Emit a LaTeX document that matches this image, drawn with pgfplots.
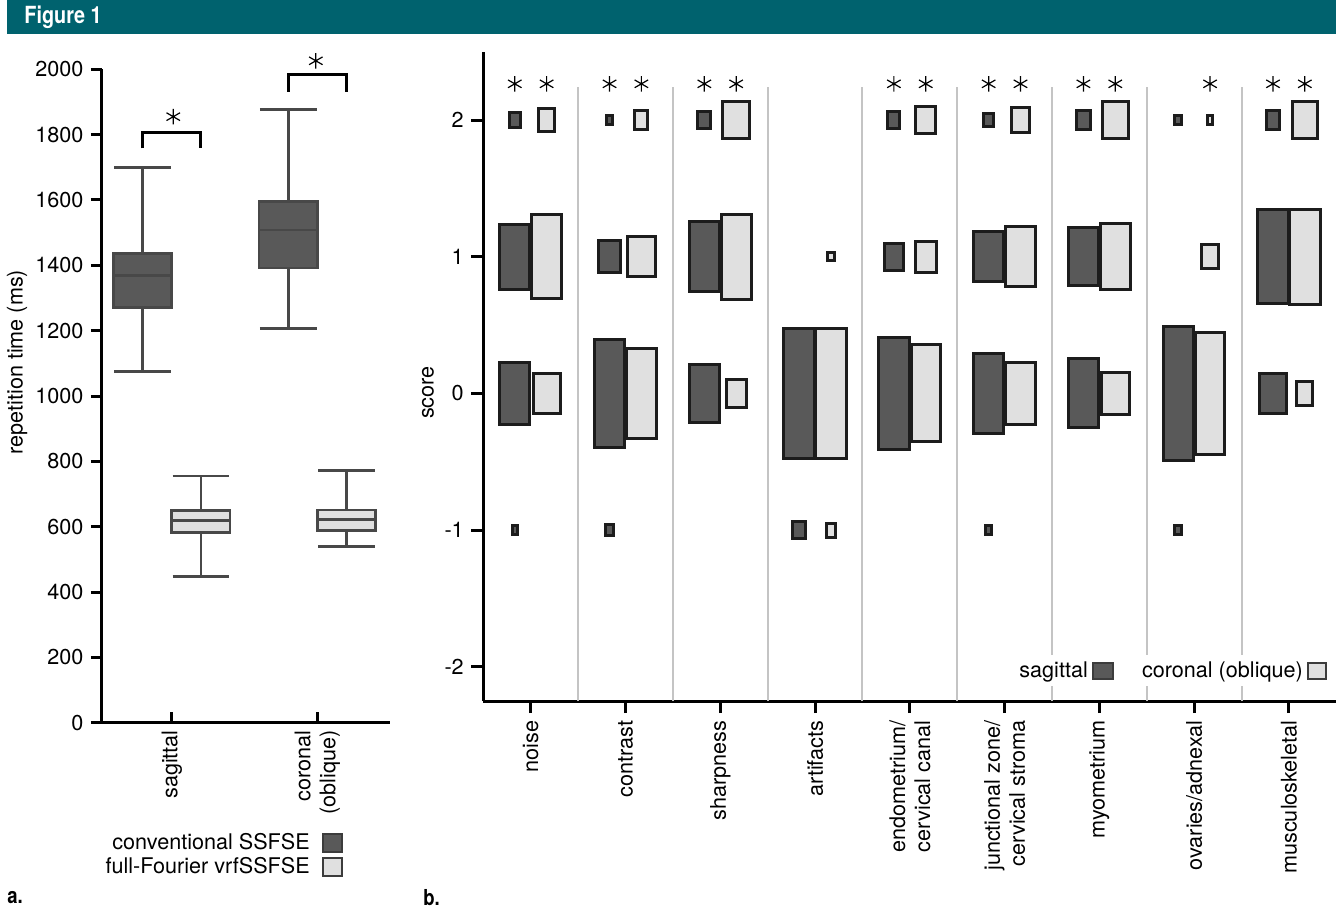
\documentclass[border=0pt]{standalone}
\usepackage{fontspec}
\setmainfont{TeX Gyre Heros}
\newfontfamily\condb[FakeStretch=0.84]{TeX Gyre Heros}
\usepackage{pgfplots}
\pgfplotsset{compat=1.18}
\usepackage{pgfplotstable}

\definecolor{teal0}{RGB}{0,98,110}
\definecolor{dkfill}{RGB}{89,89,89}
\definecolor{ltfill}{RGB}{224,224,224}
\definecolor{aline}{RGB}{72,72,72}
\definecolor{bline}{RGB}{28,28,28}
\definecolor{sepc}{RGB}{196,196,196}
\definecolor{legb}{RGB}{60,60,60}

% panel b rectangles: c = category index, y = score, w = width (x units), h = height (score units)
\pgfplotstableread{
c y w h
0 2 0.112 0.108
0 1 0.32 0.478
0 0 0.32 0.452
0 -1 0.058 0.062
1 2 0.058 0.060
1 1 0.234 0.235
1 0 0.32 0.792
1 -1 0.083 0.082
2 2 0.139 0.131
2 1 0.32 0.510
2 0 0.32 0.423
3 0 0.32 0.948
3 -1 0.129 0.126
4 2 0.129 0.126
4 1 0.206 0.199
4 0 0.32 0.819
5 2 0.105 0.096
5 1 0.32 0.364
5 0 0.32 0.588
5 -1 0.065 0.062
6 2 0.147 0.142
6 1 0.32 0.423
6 0 0.32 0.505
7 2 0.069 0.060
7 0 0.32 0.977
7 -1 0.069 0.062
8 2 0.136 0.138
8 1 0.32 0.685
8 0 0.287 0.288
}\dktbl

\pgfplotstableread{
c y w h
0 2 0.168 0.166
0 1 0.32 0.617
0 0 0.287 0.296
1 2 0.139 0.138
1 1 0.301 0.293
1 0 0.31 0.656
2 2 0.280 0.272
2 1 0.32 0.620
2 0 0.210 0.204
3 1 0.073 0.058
3 0 0.32 0.955
3 -1 0.100 0.101
4 2 0.206 0.204
4 1 0.224 0.228
4 0 0.31 0.709
5 2 0.182 0.182
5 1 0.32 0.437
5 0 0.32 0.452
6 2 0.269 0.266
6 1 0.32 0.483
6 0 0.295 0.306
7 2 0.058 0.060
7 1 0.182 0.179
7 0 0.31 0.890
8 2 0.263 0.266
8 1 0.32 0.693
8 0 0.171 0.174
}\lttbl

\newcommand\drawrects[3]{%
  \pgfplotstablegetrowsof{#1}%
  \pgfmathtruncatemacro\nrows{\pgfplotsretval-1}%
  \pgfplotsforeachungrouped \ri in {0,...,\nrows}{%
    \pgfplotstablegetelem{\ri}{c}\of#1\let\rc\pgfplotsretval
    \pgfplotstablegetelem{\ri}{y}\of#1\let\ry\pgfplotsretval
    \pgfplotstablegetelem{\ri}{w}\of#1\let\rw\pgfplotsretval
    \pgfplotstablegetelem{\ri}{h}\of#1\let\rh\pgfplotsretval
    \pgfmathsetmacro\rxa{\rc+(#2)-\rw/2}%
    \pgfmathsetmacro\rxb{\rc+(#2)+\rw/2}%
    \pgfmathsetmacro\rya{\ry-\rh/2}%
    \pgfmathsetmacro\ryb{\ry+\rh/2}%
    \edef\rtmp{\noexpand\addplot[#3] coordinates {(\rxa,\rya) (\rxb,\rya) (\rxb,\ryb) (\rxa,\ryb)} -- cycle;}%
    \rtmp
  }%
}

\pgfplotsset{
  rdk/.style={forget plot, fill=dkfill, draw=bline, line width=1.5pt, line join=miter},
  rlt/.style={forget plot, fill=ltfill, draw=bline, line width=1.5pt, line join=miter},
  wk/.style={forget plot, draw=aline, line width=1.4pt},
  bxd/.style={forget plot, fill=dkfill, draw=aline, line width=1.4pt, line join=miter},
  bxl/.style={forget plot, fill=ltfill, draw=aline, line width=1.4pt, line join=miter},
  star/.style={forget plot, only marks, mark=asterisk, mark size=3.9pt, mark options={black, line width=0.6pt}},
  every axis/.append style={font=\fontsize{10.8}{12.5}\selectfont},
}

\begin{document}
\fontsize{10.8}{12.5}\selectfont
\begin{tikzpicture}
\useasboundingbox (0,0) rectangle (668pt,-454pt);
\fill[teal0] (3.5pt,0) rectangle (668pt,-17pt);
\node[anchor=west, text=white, inner sep=0pt, font=\condb\bfseries\fontsize{11.8}{12}\selectfont] at (12pt,-8.7pt) {Figure 1};
\node[anchor=west, inner sep=0pt, font=\condb\bfseries\fontsize{11}{12}\selectfont] at (3.5pt,-449pt) {a.};
\node[anchor=west, inner sep=0pt, font=\condb\bfseries\fontsize{11}{12}\selectfont] at (211.5pt,-449pt) {b.};

% ---------------- panel a ----------------
\begin{axis}[
  at={(51pt,-361.35pt)}, anchor=south west,
  scale only axis, width=144pt, height=326.7pt,
  xmin=0.52, xmax=2.5, ymin=0, ymax=2000,
  axis x line*=bottom, axis y line*=left,
  axis line style={line width=1.5pt, black},
  xtick={1,2}, xticklabels={sagittal,{coronal\\(oblique)}},
  ytick={0,200,400,600,800,1000,1200,1400,1600,1800,2000},
  yticklabels={0,200,400,600,800,1000,1200,1400,1600,1800,2000},
  xtick align=inside, ytick align=outside,
  major tick length=5.5pt,
  tick style={line width=1.5pt, black},
  xticklabel style={rotate=90, anchor=east, align=right},
  ylabel={repetition time (ms)},
  ylabel style={at={(axis description cs:-0.295,0.552)}, anchor=center},
  clip=false,
  legend style={at={(0.838,-0.162)}, anchor=north east, draw=none, fill=none,
    font=\fontsize{10.8}{12.5}\selectfont, inner sep=0pt, row sep=-1.5pt,
    /tikz/every odd column/.append style={column sep=4pt}},
  legend plot pos=right, legend cell align=right,
]
% sagittal, conventional
\addplot[wk] coordinates {(0.8,1076) (0.8,1699)};
\addplot[wk] coordinates {(0.605,1076) (0.995,1076)};
\addplot[wk] coordinates {(0.605,1699) (0.995,1699)};
\addplot[bxd] coordinates {(0.6,1270) (1.0,1270) (1.0,1436) (0.6,1436)} -- cycle;
\addplot[wk] coordinates {(0.6,1370) (1.0,1370)};
% sagittal, full-Fourier
\addplot[wk] coordinates {(1.2,447) (1.2,755)};
\addplot[wk] coordinates {(1.005,447) (1.395,447)};
\addplot[wk] coordinates {(1.005,755) (1.395,755)};
\addplot[bxl] coordinates {(1.0,581) (1.4,581) (1.4,650) (1.0,650)} -- cycle;
\addplot[wk] coordinates {(1.0,619.5) (1.4,619.5)};
% coronal, conventional
\addplot[wk] coordinates {(1.8,1207) (1.8,1877)};
\addplot[wk] coordinates {(1.605,1207) (1.995,1207)};
\addplot[wk] coordinates {(1.605,1877) (1.995,1877)};
\addplot[bxd] coordinates {(1.6,1392) (2.0,1392) (2.0,1595) (1.6,1595)} -- cycle;
\addplot[wk] coordinates {(1.6,1508) (2.0,1508)};
% coronal, full-Fourier
\addplot[wk] coordinates {(2.2,539) (2.2,772)};
\addplot[wk] coordinates {(2.005,539) (2.395,539)};
\addplot[wk] coordinates {(2.005,772) (2.395,772)};
\addplot[bxl] coordinates {(2.0,588) (2.4,588) (2.4,651) (2.0,651)} -- cycle;
\addplot[wk] coordinates {(2.0,622.5) (2.4,622.5)};
% significance brackets
\addplot[forget plot, black, line width=1.5pt, line join=miter] coordinates {(0.8,1758) (0.8,1806) (1.2,1806) (1.2,1758)};
\addplot[forget plot, black, line width=1.5pt, line join=miter] coordinates {(1.8,1931) (1.8,1983) (2.2,1983) (2.2,1931)};
\addplot[star] coordinates {(1.01,1855) (1.99,2026)};
\addlegendimage{legend image code/.code={\draw[fill=dkfill, draw=legb, line width=1.1pt] (0pt,-4.5pt) rectangle (9.5pt,4.5pt);}}
\addlegendentry{conventional SSFSE}
\addlegendimage{legend image code/.code={\draw[fill=ltfill, draw=legb, line width=1.1pt] (0pt,-4.5pt) rectangle (9.5pt,4.5pt);}}
\addlegendentry{full-Fourier vrfSSFSE}
\end{axis}

% ---------------- panel b ----------------
\begin{axis}[
  at={(241.65pt,-350.5pt)}, anchor=south west,
  scale only axis, width=426.5pt, height=324.65pt,
  xmin=-0.5, xmax=8.5, ymin=-2.25, ymax=2.5,
  axis x line*=bottom, axis y line*=left,
  axis line style={line width=1.5pt, black},
  xtick={0,1,2,3,4,5,6,7,8},
  xticklabels={noise,contrast,sharpness,artifacts,{endometrium/\\cervical canal},{junctional zone/\\cervical stroma},myometrium,ovaries/adnexal,musculoskeletal},
  ytick={-2,-1,0,1,2}, yticklabels={-2,-1,0,1,2},
  tick align=outside, major tick length=6pt,
  tick style={line width=1.5pt, black},
  xticklabel style={rotate=90, anchor=east, align=right},
  ylabel={score},
  ylabel style={at={(axis description cs:-0.065,0.475)}, anchor=center},
  clip=false,
  legend style={at={(0.992,0.022)}, anchor=south east, draw=none, fill=white,
    font=\fontsize{10.8}{12.5}\selectfont, inner sep=1pt},
  legend columns=2, legend plot pos=right,
  legend style={/tikz/every even column/.append style={column sep=12pt}},
]
\addplot[forget plot, sepc, line width=1pt] coordinates {(0.5,-2.25) (0.5,2.24)};
\addplot[forget plot, sepc, line width=1pt] coordinates {(1.5,-2.25) (1.5,2.24)};
\addplot[forget plot, sepc, line width=1pt] coordinates {(2.5,-2.25) (2.5,2.24)};
\addplot[forget plot, sepc, line width=1pt] coordinates {(3.5,-2.25) (3.5,2.24)};
\addplot[forget plot, sepc, line width=1pt] coordinates {(4.5,-2.25) (4.5,2.24)};
\addplot[forget plot, sepc, line width=1pt] coordinates {(5.5,-2.25) (5.5,2.24)};
\addplot[forget plot, sepc, line width=1pt] coordinates {(6.5,-2.25) (6.5,2.24)};
\addplot[forget plot, sepc, line width=1pt] coordinates {(7.5,-2.25) (7.5,2.24)};
\drawrects{\dktbl}{-0.168}{rdk}
\drawrects{\lttbl}{0.168}{rlt}
\addplot[star] coordinates {(-0.168,2.265) (0.168,2.265) (0.832,2.265) (1.168,2.265) (1.832,2.265) (2.168,2.265)
    (3.832,2.265) (4.168,2.265) (4.832,2.265) (5.168,2.265) (5.832,2.265) (6.168,2.265)
    (7.168,2.265) (7.832,2.265) (8.168,2.265)};
\addlegendimage{legend image code/.code={\draw[fill=dkfill, draw=legb, line width=1.1pt] (0pt,-4pt) rectangle (10pt,4pt);}}
\addlegendentry{sagittal}
\addlegendimage{legend image code/.code={\draw[fill=ltfill, draw=legb, line width=1.1pt] (0pt,-4pt) rectangle (9pt,4pt);}}
\addlegendentry{coronal (oblique)}
\end{axis}
\end{tikzpicture}
\end{document}
